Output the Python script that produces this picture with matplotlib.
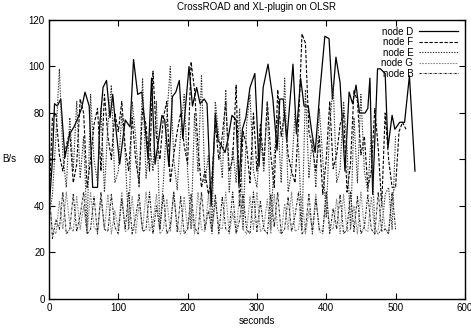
import numpy as np
import matplotlib.pyplot as plt

plt.rcParams['font.family'] = ['Liberation Sans', 'DejaVu Sans']
plt.rcParams['font.size'] = 7

# node D: (seconds, B/s)
d_t = [0, 5, 8, 12, 17, 23, 30, 36, 42, 47, 52, 58, 63, 70, 73, 78, 83, 88, 92, 97,
       102, 110, 117, 122, 128, 134, 143, 148, 153, 158, 163, 167, 173, 178, 183, 188,
       193, 202, 207, 213, 218, 224, 228, 234, 240, 244, 247, 254, 259, 264, 270, 274,
       279, 284, 290, 297, 303, 309, 316, 323, 329, 333, 338, 343, 352, 357, 363, 368,
       374, 379, 384, 391, 398, 404, 409, 414, 420, 427, 433, 438, 443, 448, 456, 460,
       463, 467, 474, 478, 485, 489, 495, 499, 506, 513, 520, 528]
d_v = [38, 60, 84, 83, 86, 61, 71, 74, 78, 82, 89, 83, 48, 48, 74, 91, 94, 78, 88, 72,
       58, 77, 74, 103, 88, 89, 60, 95, 58, 68, 79, 77, 57, 87, 89, 94,
       69, 100, 83, 91, 84, 86, 84, 40, 80, 68, 67, 63, 70, 79, 77, 49,
       73, 78, 91, 97, 57, 91, 101, 86, 64, 86, 86, 68, 101, 71, 95, 83,
       83, 72, 63, 90, 113, 112, 86, 104, 93, 55, 89, 84, 92, 80, 80, 82,
       95, 45, 99, 99, 97, 65, 79, 73, 76, 76, 96, 55]

# the other nodes are sampled every 5 s
f_v = [40, 78, 80, 62, 55, 66, 72, 50, 58, 86, 80, 48, 60, 75, 82, 55, 88, 70, 60, 80,
       72, 85, 65, 55, 78, 60, 50, 82, 75, 55, 98, 70, 60, 78, 85, 50, 62, 72, 80, 66,
       58, 102, 90, 65, 48, 55, 45, 52, 75, 60, 70, 85, 55, 60, 92, 40, 72, 66, 50, 80,
       55, 75, 58, 85, 62, 48, 90, 70, 80, 62, 55, 50, 75, 114, 110, 72, 65, 55, 70, 45,
       60, 85, 56, 62, 75, 80, 46, 58, 90, 85, 62, 70, 48, 55, 82, 65, 40, 80, 60, 48,
       48, 72, 76, 73]
e_v = [35, 45, 70, 99, 62, 48, 78, 55, 85, 52, 70, 30, 88, 60, 50, 82, 46, 75, 92, 50,
       55, 80, 62, 30, 85, 70, 48, 95, 52, 68, 55, 85, 30, 50, 78, 100, 60, 47, 72, 88,
       55, 30, 80, 55, 96, 50, 62, 30, 85, 70, 52, 90, 46, 65, 50, 82, 30, 75, 88, 55,
       48, 70, 55, 85, 30, 62, 78, 50, 95, 46, 55, 80, 65, 30, 90, 52, 70, 48, 82, 60,
       35, 75, 92, 50, 56, 85, 65, 30, 78, 50, 88, 55, 46, 72, 30, 28, 30, 45, 48, 30,
       70]
g_v = [45, 30, 28, 42, 30, 46, 32, 29, 44, 30, 40, 28, 46, 31, 29, 43, 30, 45, 28, 38,
       30, 46, 29, 30, 44, 28, 41, 30, 46, 29, 33, 45, 28, 30, 43, 29, 46, 31, 28, 44,
       30, 39, 28, 46, 30, 29, 45, 28, 42, 31, 30, 46, 28, 37, 29, 45, 30, 28, 44, 30,
       46, 29, 31, 43, 28, 45, 30, 28, 41, 30, 46, 29, 30, 44, 28, 38, 30, 45, 29, 28,
       46, 31, 30, 43, 28, 45, 29, 30, 40, 28, 46, 30, 29, 44, 28, 30, 42, 30, 29, 45,
       48]
b_v = [48, 26, 34, 30, 46, 28, 30, 45, 29, 36, 46, 28, 30, 44, 28, 46, 30, 29, 45, 31,
       28, 43, 30, 46, 28, 35, 45, 29, 30, 46, 28, 40, 30, 45, 28, 31, 46, 29, 44, 28,
       30, 45, 31, 28, 46, 30, 38, 29, 45, 28, 44, 30, 29, 46, 28, 34, 45, 30, 28, 46,
       29, 42, 30, 28, 45, 31, 46, 28, 30, 44, 29, 36, 46, 28, 30, 45, 28, 43, 30, 29,
       46, 28, 39, 30, 45, 28, 30, 46, 29, 44, 28, 31, 45, 30, 28, 46, 29, 30, 28, 46,
       30]

series = [
    ('node D', d_t, d_v, dict(color='black', lw=0.9, ls='-')),
    ('node F', None, f_v, dict(color='black', lw=0.8, ls=(0, (3, 1.5)))),
    ('node E', None, e_v, dict(color='#333333', lw=0.8, ls=(0, (1.2, 1.2)))),
    ('node G', None, g_v, dict(color='#8c8c8c', lw=0.8, ls=(0, (1.5, 1)))),
    ('node B', None, b_v, dict(color='#222222', lw=0.8, ls=(0, (2, 1, 0.5, 1)))),
]

fig = plt.figure(figsize=(4.71, 3.32), dpi=100)
ax = fig.add_axes([0.104, 0.0994, 0.883, 0.8404])

for name, t, v, style in series:
    if t is None:
        t = np.arange(len(v)) * 5
    ax.plot(t, v, label=name, **style)

ax.set_xlim(0, 600)
ax.set_ylim(0, 120)
ax.set_xticks(np.arange(0, 601, 100))
ax.set_yticks(np.arange(0, 121, 20))
ax.tick_params(direction='in', top=True, right=True, length=4, width=0.8, pad=3)
for s in ax.spines.values():
    s.set_linewidth(1.0)

ax.set_title('CrossROAD and XL-plugin on OLSR', fontsize=7, pad=7)
ax.set_xlabel('seconds', labelpad=2)
ax.set_ylabel('B/s', rotation=0, labelpad=14, va='center')

ax.legend(loc='upper right', frameon=False, markerfirst=False, fontsize=7,
          handlelength=4, handletextpad=0.6, labelspacing=0.05,
          borderaxespad=0.3, alignment='right')

fig.savefig('out.png', dpi=100)
